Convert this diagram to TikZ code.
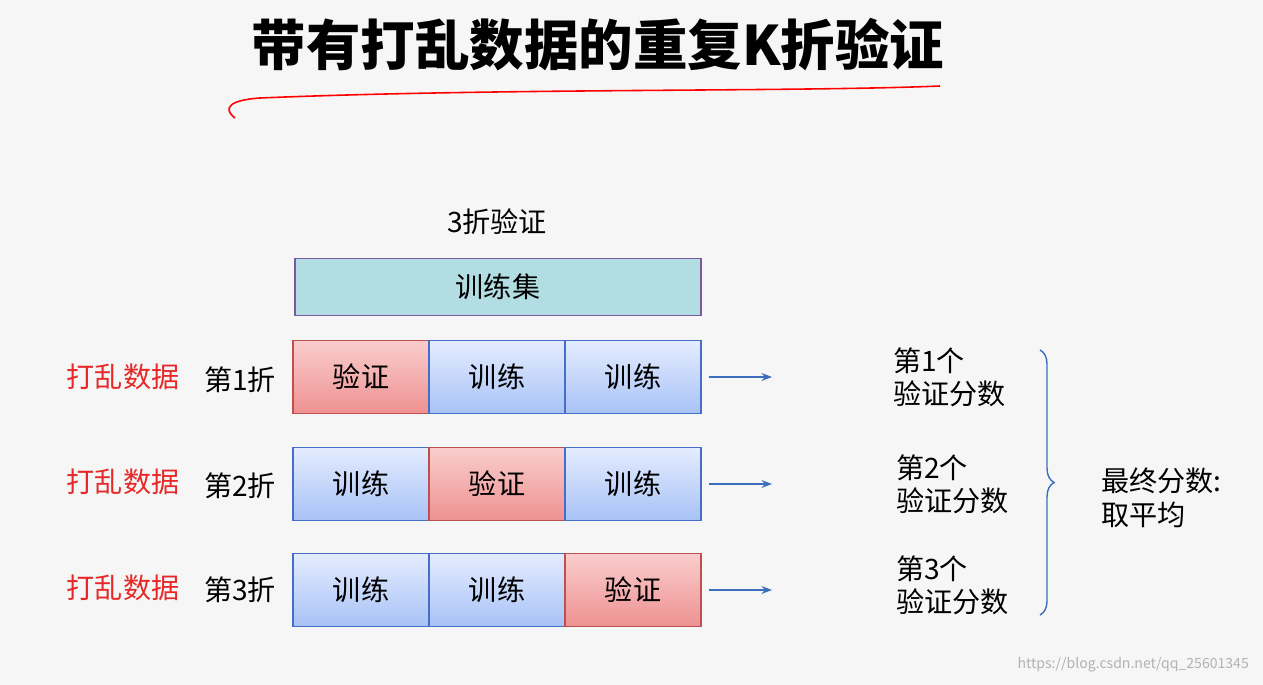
\documentclass[tikz,border=0pt]{standalone}
\usepackage{fontspec}
\setmainfont{Noto Sans CJK SC}
\usetikzlibrary{decorations.pathreplacing,arrows.meta}
\definecolor{bg}{RGB}{246,246,246}
\definecolor{teal}{RGB}{178,221,226}
\definecolor{bdr}{RGB}{120,90,160}
\definecolor{bluB}{RGB}{70,110,200}
\definecolor{redB}{RGB}{190,80,80}
\definecolor{redT}{RGB}{230,40,40}
\definecolor{arr}{RGB}{60,110,190}
\tikzset{
 px/.style={x=0.02cm,y=-0.02cm},
 trainbox/.style={draw=bluB,line width=0.8pt,top color={rgb,255:red,228;green,236;blue,255},bottom color={rgb,255:red,168;green,194;blue,246},minimum width=2.72cm,minimum height=1.46cm,font=\fontsize{16}{18}\selectfont,inner sep=0pt},
 valbox/.style={trainbox,draw=redB,top color={rgb,255:red,250;green,205;blue,205},bottom color={rgb,255:red,238;green,145;blue,145}},
 lbl/.style={font=\fontsize{16}{19}\selectfont},
 redlbl/.style={lbl,text=redT},
 score/.style={lbl,align=left,anchor=west},
 arrw/.style={draw=arr,line width=0.8pt,-{Stealth[length=6pt]}}
}
\begin{document}
\begin{tikzpicture}[px]
\fill[bg] (0,0) rectangle (1263,685);
\useasboundingbox (0,0) rectangle (1263,685);
\node[font=\fontsize{31}{35}\selectfont\bfseries] (title) at (598,45) {带有打乱数据的重复K折验证};
\draw[red,line width=0.9pt] (235,118) .. controls (222,108) and (230,100) .. (260,98) .. controls (500,88) and (800,92) .. (940,86);
\node[lbl] (k3) at (497,222) {3折验证};
\node[draw=bdr,line width=0.8pt,fill=teal,minimum width=8.12cm,minimum height=1.14cm,lbl] (ts) at (498,287) {训练集};
\node[valbox] (a1) at (361,377) {验证};
\node[trainbox] (a2) at (497,377) {训练};
\node[trainbox] (a3) at (633,377) {训练};
\node[trainbox] (c1) at (361,484) {训练};
\node[valbox] (c2) at (497,484) {验证};
\node[trainbox] (c3) at (633,484) {训练};
\node[trainbox] (d1) at (361,590) {训练};
\node[trainbox] (d2) at (497,590) {训练};
\node[valbox] (d3) at (633,590) {验证};
\node[redlbl] (r1) at (123,377) {打乱数据};
\node[redlbl] (r2) at (123,482) {打乱数据};
\node[redlbl] (r3) at (123,588) {打乱数据};
\node[lbl] (f1) at (240,380) {第1折};
\node[lbl] (f2) at (240,486) {第2折};
\node[lbl] (f3) at (240,590) {第3折};
\coordinate (e1) at (772,377); \coordinate (e2) at (772,484); \coordinate (e3) at (772,590);
\draw[arrw] ([xshift=0.14cm]a3.east) -- (e1);
\draw[arrw] ([xshift=0.14cm]c3.east) -- (e2);
\draw[arrw] ([xshift=0.14cm]d3.east) -- (e3);
\node[score] (s1) at (887,377) {第1个\\验证分数};
\node[score] (s2) at (890,484) {第2个\\验证分数};
\node[score] (s3) at (890,585) {第3个\\验证分数};
\draw[arr,line width=0.8pt,decorate,decoration={brace,amplitude=8pt}] (1040,350) -- (1040,615);
\node[score] (fin) at (1095,498) {最终分数:\\取平均};
\node[font=\fontsize{8}{10}\selectfont,text=gray!60,anchor=east] (wm) at (1255,665) {https://blog.csdn.net/qq\_25601345};
\end{tikzpicture}
\end{document}
